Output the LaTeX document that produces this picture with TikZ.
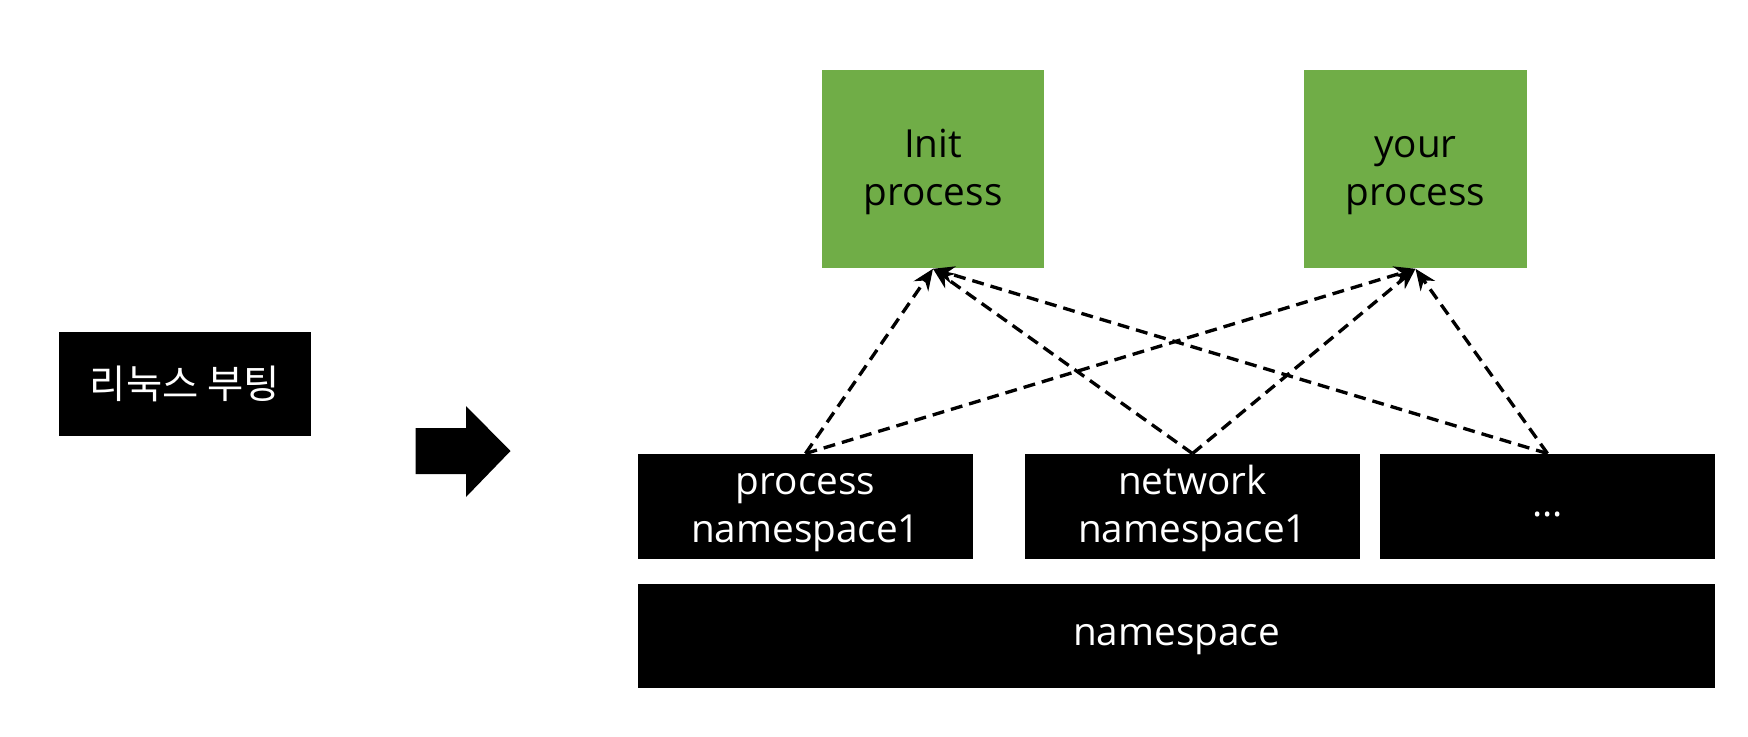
\documentclass[tikz,border=0pt]{standalone}
\usepackage{fontspec}
\setmainfont{Open Sans}
\newfontfamily\krfont{Noto Sans CJK KR}
\usepackage{xcolor}
\usepackage{tikz}
\usetikzlibrary{arrows.meta}

\definecolor{procgreen}{HTML}{70AD47}

\tikzset{
    blackbox/.style={rectangle, fill=black, text=white, inner sep=0pt, align=center,
        font=\fontsize{11}{13.6}\selectfont},
    greenbox/.style={rectangle, fill=procgreen, text=black, inner sep=0pt, align=center,
        minimum width=2.22cm, minimum height=1.98cm, font=\fontsize{11}{13.6}\selectfont},
    nsbox/.style={blackbox, minimum width=3.35cm, minimum height=1.045cm},
    dep/.style={dash pattern=on 3.4pt off 2pt, line width=0.95pt, -{Stealth[length=6pt,width=5pt]}}
}

\begin{document}
\begin{tikzpicture}[x=0.01cm, y=-0.01cm]
    \useasboundingbox (0,0) rectangle (1748,736);

    % Boot
    \node[blackbox, minimum width=2.52cm, minimum height=1.03cm] (boot) at (185,384)
        {\krfont\fontsize{11.2}{13.6}\selectfont 리눅스 부팅};

    % Block arrow
    \fill[black] (415.7,428) -- (466,428) -- (466,406) -- (510.5,451)
        -- (466,497) -- (466,474) -- (415.7,474) -- cycle;

    % Processes
    \node[greenbox] (init) at (933,169) {\strut Init\\process};
    \node[greenbox] (your) at (1415.5,169) {\strut your\\process};

    % Namespaces
    \node[nsbox] (pns) at (805.5,506.5) {\strut process\\namespace1};
    \node[nsbox] (nns) at (1192.5,506.5) {\strut network\\namespace1};
    \node[nsbox] (more) at (1547.5,506.5) {\strut ...};
    \node[blackbox, minimum width=10.77cm, minimum height=1.04cm] (ns) at (1176.5,636) {\strut namespace};

    % Dependencies
    \foreach \src in {pns,nns,more}
        \foreach \dst in {init,your}
            \draw[dep] (\src.north) -- (\dst.south);
\end{tikzpicture}
\end{document}
